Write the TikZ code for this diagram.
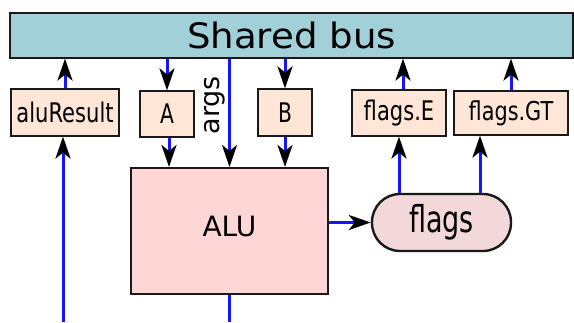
\documentclass[tikz,border=0pt]{standalone}
\usepackage{fontspec}
\setmainfont{DejaVu Sans}
\usetikzlibrary{arrows.meta}

\definecolor{busfill}{RGB}{162,208,216}
\definecolor{regfill}{RGB}{255,230,214}
\definecolor{alufill}{RGB}{255,214,214}
\definecolor{flagfill}{RGB}{242,216,216}
\definecolor{wire}{RGB}{20,20,255}
\definecolor{edge}{RGB}{25,25,25}

\tikzset{
  box/.style={draw=edge, line width=1.2pt, inner sep=0pt, align=center},
  reg/.style={box, fill=regfill},
  wireline/.style={draw=wire, line width=3pt},
  arrowtip/.tip={Stealth[length=22pt,width=15pt,inset=6pt,color=black]},
  arr/.style={wireline, -arrowtip},
}

\begin{document}
\begin{tikzpicture}[x=1pt,y=-1pt]
\useasboundingbox (0,0) rectangle (574,322);

% shared bus
\node[box, fill=busfill, minimum width=563pt, minimum height=45pt]
  (bus) at (291.5,35.5) {\fontsize{35}{40}\selectfont\scalebox{1.06}[1]{Shared bus}};

% registers
\node[reg, minimum width=108pt, minimum height=47pt] (res) at (65,112.5)
  {\fontsize{27}{28}\selectfont\scalebox{0.78}[1]{aluResult}};
\node[reg, minimum width=54pt, minimum height=46pt] (A) at (167,114)
  {\fontsize{27}{28}\selectfont\scalebox{0.75}[1]{A}};
\node[reg, minimum width=54pt, minimum height=47pt] (B) at (285,112.5)
  {\fontsize{27}{28}\selectfont\scalebox{0.75}[1]{B}};
\node[reg, minimum width=94pt, minimum height=46pt] (fE) at (399,113)
  {\fontsize{27}{30}\selectfont\scalebox{0.78}[1]{flags.E}};
\node[reg, minimum width=114pt, minimum height=44pt] (fGT) at (511,113)
  {\raisebox{4pt}{\fontsize{26}{29}\selectfont\scalebox{0.8}[1]{flags.GT}}};

% ALU and flags
\node[box, fill=alufill, line width=2pt, minimum width=197pt, minimum height=126pt]
  (alu) at (229.5,231) {\raisebox{9pt}{\fontsize{28}{32}\selectfont ALU}};
\node[box, fill=flagfill, line width=2.4pt, rounded corners=28pt,
      minimum width=139pt, minimum height=57pt]
  (flags) at (441.5,222.5) {\fontsize{37}{40}\selectfont\scalebox{0.73}[1]{flags}};

% free wire ends
\coordinate (resin) at (63,322);
\coordinate (aluout) at (230,322);
\coordinate (ex) at ([xshift=4pt]fE.north);
\coordinate (gx) at ([xshift=-31pt]fGT.south);

% wires
\draw[arr] (resin) -- (resin |- res.south);
\draw[arr] (res.north) -- (res.north |- bus.south);
\draw[arr] (bus.south -| A.north) -- (A.north);
\draw[arr] ([xshift=2pt]A.south) -- ([xshift=2pt]A.south |- alu.north);
\draw[arr] (bus.south -| alu.north) -- node[pos=0.43, rotate=90, anchor=south, inner sep=3pt]
  {\fontsize{27}{28}\selectfont args} (alu.north);
\draw[arr] (bus.south -| B.north) -- (B.north);
\draw[arr] (B.south) -- (B.south |- alu.north);
\draw[wireline] (alu.south) -- (alu.south |- aluout);
\draw[arr] (alu.east |- flags.west) -- (flags.west);
\draw[arr] (flags.north -| fE.south) -- (fE.south);
\draw[arr] (ex) -- (ex |- bus.south);
\draw[arr] (gx |- flags.north) -- (gx);
\draw[arr] (fGT.north) -- (fGT.north |- bus.south);
\end{tikzpicture}
\end{document}
